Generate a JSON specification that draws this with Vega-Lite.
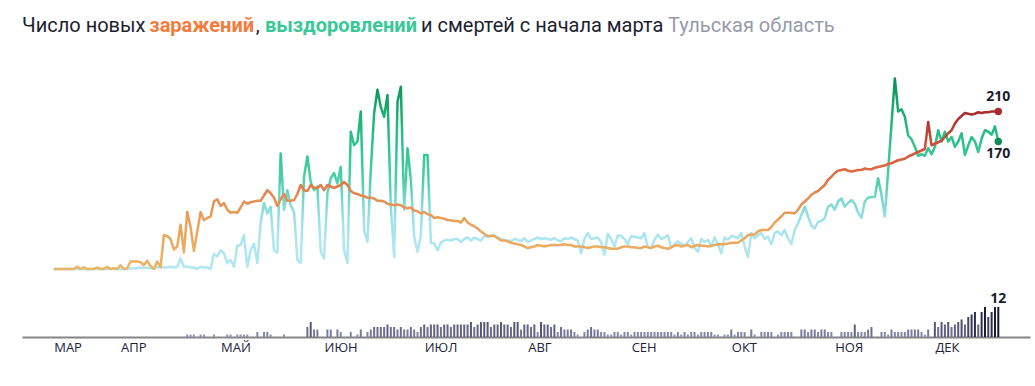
{
"$schema": "https://vega.github.io/schema/vega-lite/v6.json",
"autosize": {"type": "pad"},
"padding": {"left": 22, "top": 16, "right": 5, "bottom": 0},
"background": "white",
"config": {"view": {"stroke": null}, "font": "Open Sans"},
"title": {
 "text": "Число новых \u2003\u2003\u2003\u2003\u2003\u2006, \u2003\u2003\u2003\u2003\u2003\u2003\u2003\u2005\u2006 и смертей с начала марта",
 "subtitle": "\u200b\u2003\u2003\u2003\u2003\u2003\u2003\u2003\u2003\u2003\u2003\u2003\u2003\u2003\u2003\u2003\u2003\u2003\u2003\u2003\u2003\u2003\u2003\u2003\u2003\u2003\u2003\u2003\u2003\u2003\u2003\u2003\u2002\u2006Тульская область",
 "anchor": "start", "frame": "group", "orient": "top",
 "font": "Roboto", "fontSize": 20, "fontWeight": "normal", "color": "#1d1e30",
 "subtitleFont": "Roboto", "subtitleFontSize": 20, "subtitleFontWeight": "normal", "subtitleColor": "#979aac",
 "subtitlePadding": -20, "offset": -20
},
"vconcat": [{
"width": 1008, "height": 287,
"title": {
 "text": "\u200b\u2003\u2003\u2003\u2003\u2003\u2003\u00a0заражений",
 "subtitle": "\u200b\u2003\u2003\u2003\u2003\u2003\u2003\u2003\u2003\u2003\u2003\u2003\u2002\u00a0\u2006выздоровлений",
 "anchor": "start", "frame": "group", "orient": "top",
 "font": "Roboto", "fontSize": 20, "fontWeight": "bold", "color": "#f47b3b",
 "subtitleFont": "Roboto", "subtitleFontSize": 20, "subtitleFontWeight": "bold", "subtitleColor": "#39c996",
 "subtitlePadding": -20, "offset": 14
},
"data": {"values": [
{"d":"2020-03-12","i":0,"r":0,"m":0},{"d":"2020-03-13","i":0,"r":0,"m":0},{"d":"2020-03-14","i":0,"r":0,"m":0},{"d":"2020-03-15","i":0,"r":0,"m":0},{"d":"2020-03-16","i":0,"r":0,"m":0},{"d":"2020-03-17","i":0,"r":0,"m":0},{"d":"2020-03-18","i":0,"r":0,"m":0},{"d":"2020-03-19","i":3,"r":0,"m":0},{"d":"2020-03-20","i":0,"r":0,"m":0},{"d":"2020-03-21","i":2,"r":0,"m":0},
{"d":"2020-03-22","i":0,"r":0,"m":0},{"d":"2020-03-23","i":0,"r":0,"m":0},{"d":"2020-03-24","i":0,"r":0,"m":0},{"d":"2020-03-25","i":2,"r":0,"m":0},{"d":"2020-03-26","i":0,"r":0,"m":0},{"d":"2020-03-27","i":0,"r":0,"m":0},{"d":"2020-03-28","i":3,"r":0,"m":0},{"d":"2020-03-29","i":0,"r":0,"m":0},{"d":"2020-03-30","i":1,"r":0,"m":0},{"d":"2020-03-31","i":0,"r":0,"m":0},
{"d":"2020-04-01","i":5,"r":0,"m":0},{"d":"2020-04-02","i":0,"r":0,"m":0},{"d":"2020-04-03","i":1,"r":0,"m":0},{"d":"2020-04-04","i":10,"r":1,"m":0},{"d":"2020-04-05","i":10,"r":1,"m":0},{"d":"2020-04-06","i":10,"r":1,"m":0},{"d":"2020-04-07","i":9,"r":2,"m":0},{"d":"2020-04-08","i":5,"r":1,"m":0},{"d":"2020-04-09","i":11,"r":2,"m":0},{"d":"2020-04-10","i":4,"r":1,"m":0},
{"d":"2020-04-11","i":0,"r":1,"m":0},{"d":"2020-04-12","i":10,"r":2,"m":0},{"d":"2020-04-13","i":2,"r":3,"m":0},{"d":"2020-04-14","i":45,"r":2,"m":0},{"d":"2020-04-15","i":44,"r":2,"m":0},{"d":"2020-04-16","i":40,"r":3,"m":0},{"d":"2020-04-17","i":26,"r":2,"m":0},{"d":"2020-04-18","i":30,"r":3,"m":0},{"d":"2020-04-19","i":59,"r":14,"m":0},{"d":"2020-04-20","i":22,"r":3,"m":0},
{"d":"2020-04-21","i":76,"r":3,"m":1},{"d":"2020-04-22","i":56,"r":2,"m":1},{"d":"2020-04-23","i":24,"r":2,"m":1},{"d":"2020-04-24","i":50,"r":0,"m":0},{"d":"2020-04-25","i":76,"r":3,"m":1},{"d":"2020-04-26","i":65,"r":2,"m":1},{"d":"2020-04-27","i":68,"r":2,"m":0},{"d":"2020-04-28","i":70,"r":0,"m":0},{"d":"2020-04-29","i":90,"r":20,"m":1},{"d":"2020-04-30","i":93,"r":17,"m":0},
{"d":"2020-05-01","i":84,"r":25,"m":0},{"d":"2020-05-02","i":88,"r":21,"m":0},{"d":"2020-05-03","i":79,"r":8,"m":1},{"d":"2020-05-04","i":75,"r":12,"m":1},{"d":"2020-05-05","i":76,"r":3,"m":0},{"d":"2020-05-06","i":75,"r":31,"m":1},{"d":"2020-05-07","i":82,"r":32,"m":1},{"d":"2020-05-08","i":90,"r":45,"m":1},{"d":"2020-05-09","i":87,"r":3,"m":1},{"d":"2020-05-10","i":89,"r":25,"m":0},
{"d":"2020-05-11","i":90,"r":34,"m":0},{"d":"2020-05-12","i":91,"r":8,"m":2},{"d":"2020-05-13","i":91,"r":61,"m":0},{"d":"2020-05-14","i":98,"r":88,"m":2},{"d":"2020-05-15","i":105,"r":74,"m":2},{"d":"2020-05-16","i":101,"r":83,"m":1},{"d":"2020-05-17","i":95,"r":25,"m":0},{"d":"2020-05-18","i":84,"r":22,"m":0},{"d":"2020-05-19","i":93,"r":154,"m":0},{"d":"2020-05-20","i":100,"r":79,"m":1},
{"d":"2020-05-21","i":91,"r":105,"m":0},{"d":"2020-05-22","i":91,"r":85,"m":0},{"d":"2020-05-23","i":92,"r":76,"m":0},{"d":"2020-05-24","i":100,"r":12,"m":0},{"d":"2020-05-25","i":112,"r":8,"m":0},{"d":"2020-05-26","i":105,"r":123,"m":0},{"d":"2020-05-27","i":104,"r":150,"m":4},{"d":"2020-05-28","i":112,"r":116,"m":6},{"d":"2020-05-29","i":108,"r":105,"m":3},{"d":"2020-05-30","i":108,"r":110,"m":3},
{"d":"2020-05-31","i":112,"r":23,"m":0},
{"d":"2020-06-01","i":105,"r":14,"m":0},{"d":"2020-06-02","i":112,"r":101,"m":3},{"d":"2020-06-03","i":110,"r":121,"m":3},{"d":"2020-06-04","i":108,"r":128,"m":0},{"d":"2020-06-05","i":110,"r":114,"m":3},{"d":"2020-06-06","i":112,"r":136,"m":2},{"d":"2020-06-07","i":116,"r":25,"m":0},{"d":"2020-06-08","i":112,"r":8,"m":0},{"d":"2020-06-09","i":104,"r":183,"m":2},{"d":"2020-06-10","i":101,"r":165,"m":0},
{"d":"2020-06-11","i":100,"r":170,"m":1},{"d":"2020-06-12","i":98,"r":210,"m":3},{"d":"2020-06-13","i":97,"r":52,"m":0},{"d":"2020-06-14","i":95,"r":36,"m":2},{"d":"2020-06-15","i":95,"r":132,"m":3},{"d":"2020-06-16","i":94,"r":208,"m":4},{"d":"2020-06-17","i":91,"r":239,"m":4},{"d":"2020-06-18","i":91,"r":216,"m":4},{"d":"2020-06-19","i":90,"r":203,"m":4},{"d":"2020-06-20","i":87,"r":232,"m":5},
{"d":"2020-06-21","i":86,"r":83,"m":4},{"d":"2020-06-22","i":85,"r":16,"m":4},{"d":"2020-06-23","i":86,"r":223,"m":3},{"d":"2020-06-24","i":85,"r":243,"m":4},{"d":"2020-06-25","i":82,"r":79,"m":3},{"d":"2020-06-26","i":81,"r":161,"m":3},{"d":"2020-06-27","i":82,"r":119,"m":4},{"d":"2020-06-28","i":78,"r":43,"m":3},{"d":"2020-06-29","i":77,"r":23,"m":2},{"d":"2020-06-30","i":74,"r":45,"m":4},
{"d":"2020-07-01","i":76,"r":152,"m":5},{"d":"2020-07-02","i":73,"r":152,"m":4},{"d":"2020-07-03","i":72,"r":35,"m":5},{"d":"2020-07-04","i":68,"r":34,"m":5},{"d":"2020-07-05","i":69,"r":25,"m":5},{"d":"2020-07-06","i":68,"r":35,"m":4},{"d":"2020-07-07","i":67,"r":38,"m":5},{"d":"2020-07-08","i":65,"r":39,"m":5},{"d":"2020-07-09","i":65,"r":38,"m":4},{"d":"2020-07-10","i":64,"r":40,"m":5},
{"d":"2020-07-11","i":64,"r":40,"m":5},{"d":"2020-07-12","i":62,"r":36,"m":5},{"d":"2020-07-13","i":68,"r":40,"m":5},{"d":"2020-07-14","i":62,"r":42,"m":5},{"d":"2020-07-15","i":59,"r":38,"m":6},{"d":"2020-07-16","i":57,"r":42,"m":4},{"d":"2020-07-17","i":54,"r":40,"m":5},{"d":"2020-07-18","i":50,"r":38,"m":6},{"d":"2020-07-19","i":47,"r":44,"m":6},{"d":"2020-07-20","i":44,"r":43,"m":6},
{"d":"2020-07-21","i":44,"r":44,"m":4},{"d":"2020-07-22","i":44,"r":45,"m":5},{"d":"2020-07-23","i":41,"r":42,"m":5},{"d":"2020-07-24","i":38,"r":40,"m":6},{"d":"2020-07-25","i":38,"r":38,"m":5},{"d":"2020-07-26","i":37,"r":38,"m":5},{"d":"2020-07-27","i":35,"r":37,"m":4},{"d":"2020-07-28","i":34,"r":40,"m":6},{"d":"2020-07-29","i":33,"r":39,"m":6},{"d":"2020-07-30","i":32,"r":37,"m":3},
{"d":"2020-07-31","i":30,"r":41,"m":5},
{"d":"2020-08-01","i":28,"r":36,"m":5},{"d":"2020-08-02","i":29,"r":38,"m":4},{"d":"2020-08-03","i":30,"r":40,"m":5},{"d":"2020-08-04","i":32,"r":42,"m":2},{"d":"2020-08-05","i":31,"r":40,"m":6},{"d":"2020-08-06","i":30,"r":41,"m":5},{"d":"2020-08-07","i":31,"r":40,"m":5},{"d":"2020-08-08","i":32,"r":39,"m":4},{"d":"2020-08-09","i":32,"r":41,"m":5},{"d":"2020-08-10","i":32,"r":38,"m":2},
{"d":"2020-08-11","i":32,"r":37,"m":4},{"d":"2020-08-12","i":33,"r":41,"m":3},{"d":"2020-08-13","i":32,"r":40,"m":3},{"d":"2020-08-14","i":32,"r":42,"m":3},{"d":"2020-08-15","i":30,"r":40,"m":2},{"d":"2020-08-16","i":30,"r":38,"m":1},{"d":"2020-08-17","i":30,"r":21,"m":0},{"d":"2020-08-18","i":29,"r":40,"m":2},{"d":"2020-08-19","i":28,"r":48,"m":3},{"d":"2020-08-20","i":29,"r":40,"m":4},
{"d":"2020-08-21","i":30,"r":41,"m":3},{"d":"2020-08-22","i":30,"r":42,"m":3},{"d":"2020-08-23","i":29,"r":36,"m":2},{"d":"2020-08-24","i":29,"r":19,"m":2},{"d":"2020-08-25","i":28,"r":47,"m":1},{"d":"2020-08-26","i":27,"r":40,"m":1},{"d":"2020-08-27","i":27,"r":30,"m":2},{"d":"2020-08-28","i":27,"r":45,"m":2},{"d":"2020-08-29","i":29,"r":44,"m":1},{"d":"2020-08-30","i":30,"r":40,"m":2},
{"d":"2020-08-31","i":30,"r":33,"m":2},
{"d":"2020-09-01","i":29,"r":44,"m":1},{"d":"2020-09-02","i":29,"r":43,"m":2},{"d":"2020-09-03","i":28,"r":42,"m":2},{"d":"2020-09-04","i":28,"r":41,"m":2},{"d":"2020-09-05","i":30,"r":48,"m":2},{"d":"2020-09-06","i":29,"r":29,"m":2},{"d":"2020-09-07","i":28,"r":28,"m":2},{"d":"2020-09-08","i":30,"r":39,"m":2},{"d":"2020-09-09","i":31,"r":46,"m":2},{"d":"2020-09-10","i":29,"r":40,"m":2},
{"d":"2020-09-11","i":28,"r":42,"m":2},{"d":"2020-09-12","i":27,"r":45,"m":2},{"d":"2020-09-13","i":29,"r":28,"m":2},{"d":"2020-09-14","i":31,"r":33,"m":1},{"d":"2020-09-15","i":32,"r":37,"m":2},{"d":"2020-09-16","i":30,"r":34,"m":1},{"d":"2020-09-17","i":31,"r":31,"m":2},{"d":"2020-09-18","i":32,"r":36,"m":1},{"d":"2020-09-19","i":29,"r":41,"m":2},{"d":"2020-09-20","i":31,"r":28,"m":2},
{"d":"2020-09-21","i":32,"r":23,"m":1},{"d":"2020-09-22","i":31,"r":40,"m":2},{"d":"2020-09-23","i":31,"r":36,"m":2},{"d":"2020-09-24","i":30,"r":39,"m":2},{"d":"2020-09-25","i":31,"r":30,"m":2},{"d":"2020-09-26","i":32,"r":42,"m":1},{"d":"2020-09-27","i":33,"r":33,"m":1},{"d":"2020-09-28","i":33,"r":21,"m":0},{"d":"2020-09-29","i":33,"r":42,"m":1},{"d":"2020-09-30","i":34,"r":39,"m":1},
{"d":"2020-10-01","i":35,"r":44,"m":3},{"d":"2020-10-02","i":35,"r":43,"m":1},{"d":"2020-10-03","i":35,"r":41,"m":2},{"d":"2020-10-04","i":38,"r":48,"m":2},{"d":"2020-10-05","i":41,"r":30,"m":2},{"d":"2020-10-06","i":45,"r":16,"m":0},{"d":"2020-10-07","i":46,"r":48,"m":3},{"d":"2020-10-08","i":46,"r":41,"m":1},{"d":"2020-10-09","i":50,"r":45,"m":0},{"d":"2020-10-10","i":52,"r":48,"m":2},
{"d":"2020-10-11","i":52,"r":40,"m":2},{"d":"2020-10-12","i":52,"r":43,"m":2},{"d":"2020-10-13","i":56,"r":33,"m":2},{"d":"2020-10-14","i":62,"r":48,"m":0},{"d":"2020-10-15","i":66,"r":50,"m":1},{"d":"2020-10-16","i":70,"r":45,"m":2},{"d":"2020-10-17","i":75,"r":52,"m":2},{"d":"2020-10-18","i":75,"r":41,"m":2},{"d":"2020-10-19","i":75,"r":33,"m":2},{"d":"2020-10-20","i":74,"r":52,"m":0},
{"d":"2020-10-21","i":79,"r":61,"m":0},{"d":"2020-10-22","i":86,"r":72,"m":3},{"d":"2020-10-23","i":90,"r":83,"m":3},{"d":"2020-10-24","i":94,"r":70,"m":2},{"d":"2020-10-25","i":99,"r":58,"m":3},{"d":"2020-10-26","i":102,"r":54,"m":3},{"d":"2020-10-27","i":104,"r":63,"m":2},{"d":"2020-10-28","i":108,"r":64,"m":3},{"d":"2020-10-29","i":112,"r":68,"m":3},{"d":"2020-10-30","i":119,"r":83,"m":2},
{"d":"2020-10-31","i":123,"r":86,"m":2},
{"d":"2020-11-01","i":128,"r":79,"m":0},{"d":"2020-11-02","i":131,"r":90,"m":0},{"d":"2020-11-03","i":132,"r":94,"m":2},{"d":"2020-11-04","i":133,"r":83,"m":2},{"d":"2020-11-05","i":131,"r":88,"m":2},{"d":"2020-11-06","i":130,"r":92,"m":2},{"d":"2020-11-07","i":131,"r":87,"m":5},{"d":"2020-11-08","i":132,"r":75,"m":2},{"d":"2020-11-09","i":132,"r":68,"m":2},{"d":"2020-11-10","i":134,"r":90,"m":2},
{"d":"2020-11-11","i":133,"r":95,"m":3},{"d":"2020-11-12","i":133,"r":96,"m":4},{"d":"2020-11-13","i":135,"r":96,"m":0},{"d":"2020-11-14","i":136,"r":121,"m":0},{"d":"2020-11-15","i":137,"r":99,"m":2},{"d":"2020-11-16","i":138,"r":70,"m":2},{"d":"2020-11-17","i":140,"r":131,"m":1},{"d":"2020-11-18","i":141,"r":193,"m":3},{"d":"2020-11-19","i":143,"r":254,"m":2},{"d":"2020-11-20","i":145,"r":210,"m":2},
{"d":"2020-11-21","i":146,"r":213,"m":2},{"d":"2020-11-22","i":147,"r":203,"m":2},{"d":"2020-11-23","i":150,"r":178,"m":3},{"d":"2020-11-24","i":152,"r":173,"m":3},{"d":"2020-11-25","i":154,"r":163,"m":3},{"d":"2020-11-26","i":156,"r":151,"m":3},{"d":"2020-11-27","i":158,"r":153,"m":2},{"d":"2020-11-28","i":160,"r":151,"m":1},{"d":"2020-11-29","i":196,"r":161,"m":3},{"d":"2020-11-30","i":165,"r":153,"m":0},
{"d":"2020-12-01","i":167,"r":163,"m":6},{"d":"2020-12-02","i":169,"r":185,"m":4},{"d":"2020-12-03","i":171,"r":170,"m":6},{"d":"2020-12-04","i":176,"r":183,"m":5},{"d":"2020-12-05","i":181,"r":170,"m":6},{"d":"2020-12-06","i":185,"r":176,"m":4},{"d":"2020-12-07","i":194,"r":163,"m":5},{"d":"2020-12-08","i":200,"r":170,"m":6},{"d":"2020-12-09","i":204,"r":181,"m":7},{"d":"2020-12-10","i":208,"r":152,"m":5},
{"d":"2020-12-11","i":207,"r":165,"m":8},{"d":"2020-12-12","i":206,"r":176,"m":9},{"d":"2020-12-13","i":207,"r":170,"m":10},{"d":"2020-12-14","i":209,"r":156,"m":5},{"d":"2020-12-15","i":208,"r":174,"m":10},{"d":"2020-12-16","i":209,"r":185,"m":12},{"d":"2020-12-17","i":209,"r":183,"m":8},{"d":"2020-12-18","i":210,"r":179,"m":10},{"d":"2020-12-19","i":210,"r":190,"m":12},{"d":"2020-12-20","i":210,"r":170,"m":12}
]},
"encoding": {
 "x": {"field": "d", "type": "temporal",
  "scale": {"type": "utc", "domain": [{"year": 2020, "month": 3, "date": 4, "utc": true}, {"year": 2020, "month": 12, "date": 28, "utc": true}]},
  "axis": {
   "values": [
    {"year": 2020, "month": 3, "date": 12, "utc": true},
    {"year": 2020, "month": 4, "date": 1, "utc": true},
    {"year": 2020, "month": 5, "date": 1, "utc": true},
    {"year": 2020, "month": 6, "date": 1, "utc": true},
    {"year": 2020, "month": 7, "date": 1, "utc": true},
    {"year": 2020, "month": 8, "date": 1, "utc": true},
    {"year": 2020, "month": 9, "date": 1, "utc": true},
    {"year": 2020, "month": 10, "date": 1, "utc": true},
    {"year": 2020, "month": 11, "date": 1, "utc": true},
    {"year": 2020, "month": 12, "date": 1, "utc": true}
   ],
   "labelExpr": "['','','МАР','АПР','МАЙ','ИЮН','ИЮЛ','АВГ','СЕН','ОКТ','НОЯ','ДЕК'][utcmonth(datum.value)]",
   "labelAlign": "left", "labelPadding": 4, "labelFontSize": 13, "labelFont": "Open Sans",
   "labelColor": "#20223a", "ticks": false, "grid": false,
   "domainColor": "#858585", "domainWidth": 2, "title": null,
   "labelOverlap": false, "labelBound": false, "labelFlush": false
  }
 }
},
"layer": [
 {
  "mark": {"type": "bar", "width": 2},
  "encoding": {
   "y": {"field": "m", "type": "quantitative", "scale": {"domain": [0, 114.8], "nice": false}, "axis": null},
   "color": {"field": "m", "type": "quantitative", "scale": {"domain": [0, 12], "range": ["#9c9fc0", "#181836"]}, "legend": null}
  }
 },
 {
  "mark": {"type": "line", "strokeWidth": 2.5, "strokeJoin": "round",
   "stroke": {"gradient": "linear", "x1": 0, "y1": 1, "x2": 0, "y2": 0,
    "stops": [
     {"offset": 0, "color": "#b0e7f1"},
     {"offset": 0.15, "color": "#ade6f0"},
     {"offset": 0.25, "color": "#9fe2ea"},
     {"offset": 0.35, "color": "#7dd9d2"},
     {"offset": 0.45, "color": "#52d0ae"},
     {"offset": 0.55, "color": "#3ccb9a"},
     {"offset": 0.7, "color": "#2bbf88"},
     {"offset": 0.85, "color": "#17a96e"},
     {"offset": 1, "color": "#0b8f57"}
    ]}},
  "encoding": {
   "y": {"field": "r", "type": "quantitative", "scale": {"domain": [-90.667, 292], "nice": false, "zero": false}, "axis": null}
  }
 },
 {
  "mark": {"type": "line", "strokeWidth": 2.5, "strokeJoin": "round",
   "stroke": {"gradient": "linear", "x1": 0, "y1": 1, "x2": 0, "y2": 0,
    "stops": [
     {"offset": 0, "color": "#ebb666"},
     {"offset": 0.15, "color": "#eaac60"},
     {"offset": 0.3, "color": "#e9a35d"},
     {"offset": 0.45, "color": "#e48d52"},
     {"offset": 0.53, "color": "#e07a47"},
     {"offset": 0.65, "color": "#dc6840"},
     {"offset": 0.75, "color": "#d4553a"},
     {"offset": 0.88, "color": "#bf4035"},
     {"offset": 1, "color": "#a52c2f"}
    ]}},
  "encoding": {
   "y": {"field": "i", "type": "quantitative", "scale": {"domain": [-90.667, 292], "nice": false, "zero": false}, "axis": null}
  }
 },
 {
  "transform": [{"filter": "utcmonth(datum.d) == 11 && utcdate(datum.d) == 20"}],
  "mark": {"type": "circle", "size": 55, "opacity": 1, "color": "#a52c2f"},
  "encoding": {"y": {"field": "i", "type": "quantitative", "scale": {"domain": [-90.667, 292], "nice": false, "zero": false}, "axis": null}}
 },
 {
  "transform": [{"filter": "utcmonth(datum.d) == 11 && utcdate(datum.d) == 20"}],
  "mark": {"type": "circle", "size": 55, "opacity": 1, "color": "#0d8f57"},
  "encoding": {"y": {"field": "r", "type": "quantitative", "scale": {"domain": [-90.667, 292], "nice": false, "zero": false}, "axis": null}}
 },
 {
  "transform": [{"filter": "utcmonth(datum.d) == 11 && utcdate(datum.d) == 20"}],
  "mark": {"type": "text", "dy": -14, "fontSize": 14, "fontWeight": "bold", "color": "#1b1c30", "font": "Open Sans"},
  "encoding": {"y": {"field": "i", "type": "quantitative", "scale": {"domain": [-90.667, 292], "nice": false, "zero": false}, "axis": null}, "text": {"field": "i", "type": "quantitative"}}
 },
 {
  "transform": [{"filter": "utcmonth(datum.d) == 11 && utcdate(datum.d) == 20"}],
  "mark": {"type": "text", "dy": 13, "fontSize": 14, "fontWeight": "bold", "color": "#1b1c30", "font": "Open Sans"},
  "encoding": {"y": {"field": "r", "type": "quantitative", "scale": {"domain": [-90.667, 292], "nice": false, "zero": false}, "axis": null}, "text": {"field": "r", "type": "quantitative"}}
 },
 {
  "transform": [{"filter": "utcmonth(datum.d) == 11 && utcdate(datum.d) == 20"}],
  "mark": {"type": "text", "dy": -8, "fontSize": 14, "fontWeight": "bold", "color": "#1b1c30", "font": "Open Sans"},
  "encoding": {"y": {"field": "m", "type": "quantitative", "scale": {"domain": [0, 114.8], "nice": false}, "axis": null}, "text": {"field": "m", "type": "quantitative"}}
 }
],
"resolve": {"scale": {"y": "independent", "color": "independent"}}
}]
}
